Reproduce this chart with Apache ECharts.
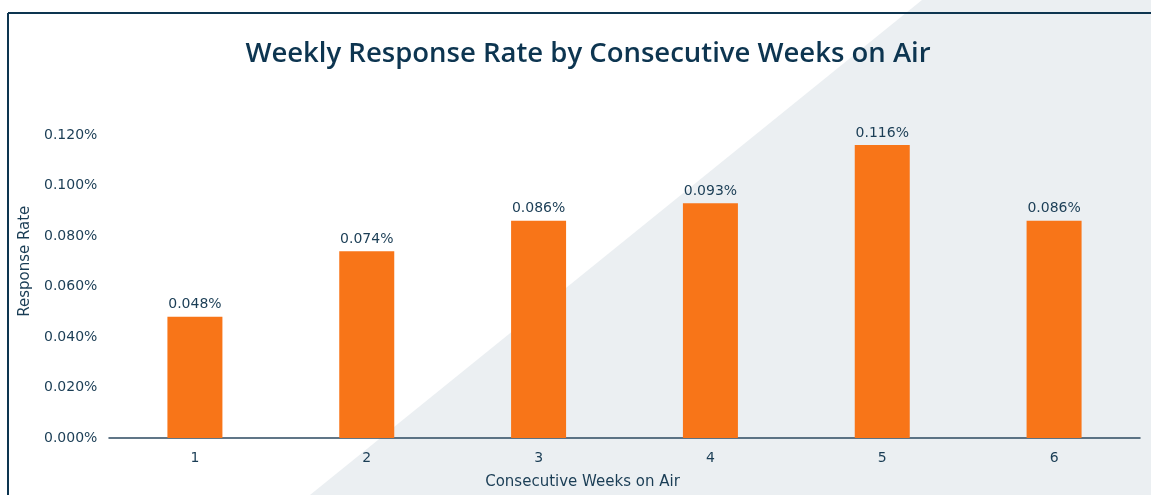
<!DOCTYPE html>
<html><head><meta charset="utf-8">
<script src="https://cdn.jsdelivr.net/npm/echarts@6/dist/echarts.min.js"></script>
<style>html,body{margin:0;padding:0;background:#fff;}#c{width:1151px;height:495px;}</style>
</head><body><div id="c"></div>
<script>
const categories = ['1','2','3','4','5','6'];
const responseRate = [0.048, 0.074, 0.086, 0.093, 0.116, 0.086];
const yTicks = [0, 0.02, 0.04, 0.06, 0.08, 0.10, 0.12];
const titleText = 'Weekly Response Rate by Consecutive Weeks on Air';
const xName = 'Consecutive Weeks on Air';
const yName = 'Response Rate';

const navy = '#0d3550';
const textColor = '#1a3d55';
const font = 'DejaVu Sans';
const chart = echarts.init(document.getElementById('c'));
chart.setOption({
  animation: false,
  backgroundColor: '#fff',
  graphic: [
    {type:'polygon', z:-10, silent:true, shape:{points:[[922,0],[1151,0],[1151,495],[310,495]]}, style:{fill:'#ebeff2'}},
    {type:'line', z:-5, silent:true, shape:{x1:8,y1:13,x2:1151,y2:13}, style:{stroke:navy,lineWidth:2}},
    {type:'line', z:-5, silent:true, shape:{x1:8,y1:13,x2:8,y2:495}, style:{stroke:navy,lineWidth:2}}
  ],
  title: {
    text: titleText, left: 583, top: 35, textAlign: 'center',
    textStyle: {fontFamily: 'Open Sans', fontSize: 27.5, fontWeight: 600, color: navy}
  },
  grid: {left: 109, right: 11, top: 84.5, bottom: 57, containLabel: false},
  xAxis: {
    type: 'category', data: categories,
    axisLine: {lineStyle: {color: '#2c4a60', width: 1.5}},
    axisTick: {show: false},
    axisLabel: {margin: 13, fontFamily: font, fontSize: 14, color: textColor},
    name: xName, nameLocation: 'middle', nameGap: 37,
    nameTextStyle: {fontFamily: font, fontSize: 15, color: textColor, padding: [0, 84, 0, 0]}
  },
  yAxis: {
    type: 'value', min: 0, max: 0.14, interval: 0.02,
    axisLine: {show: false}, axisTick: {show: false}, splitLine: {show: false},
    axisLabel: {margin: 65, align: 'left', fontFamily: font, fontSize: 14, color: textColor,
      formatter: v => (yTicks.some(t => Math.abs(t - v) < 1e-9) ? v.toFixed(3) + '%' : '')},
    name: yName, nameLocation: 'middle', nameGap: 68,
    nameTextStyle: {fontFamily: font, fontSize: 15, color: textColor}
  },
  series: [{
    type: 'bar', data: responseRate, barWidth: 55,
    itemStyle: {color: '#f87518'},
    label: {show: true, position: 'top', distance: 5, fontFamily: font, fontSize: 14, color: textColor,
      formatter: p => p.value.toFixed(3) + '%'}
  }]
});
</script></body></html>
